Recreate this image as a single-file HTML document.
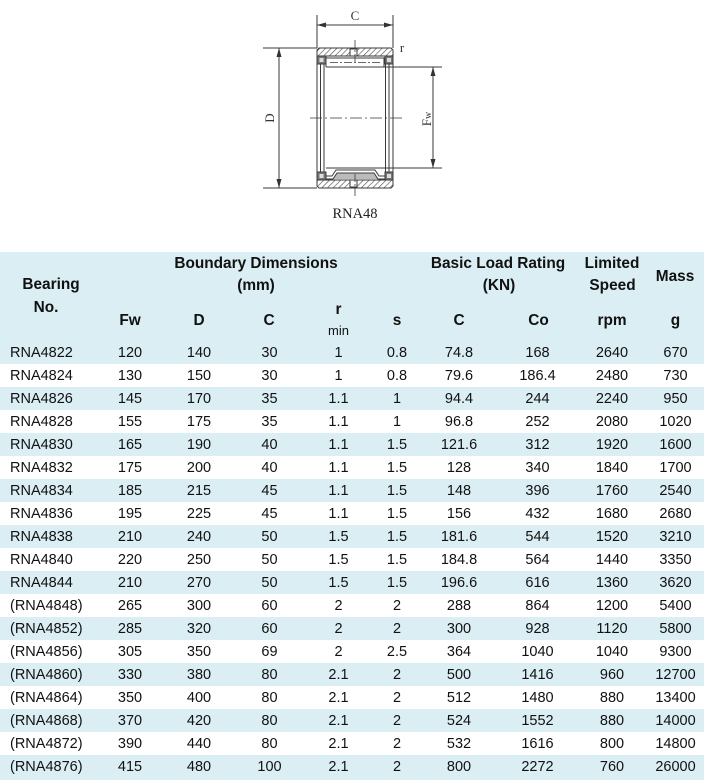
<!DOCTYPE html>
<html>
<head>
<meta charset="utf-8">
<style>
html,body{margin:0;padding:0;background:#fff;}
body{width:704px;height:780px;overflow:hidden;position:relative;font-family:"Liberation Sans",Arial,sans-serif;color:#111;}
.hdr{position:absolute;left:0;top:252px;width:704px;height:89px;background:#daeef3;}
.h{position:absolute;width:200px;text-align:center;font-weight:bold;font-size:15.4px;line-height:20px;height:20px;white-space:nowrap;}
.m{position:absolute;width:60px;text-align:center;font-size:13px;line-height:16px;height:16px;}
.r{position:absolute;left:0;width:704px;height:23px;font-size:14.5px;}
.r span{position:absolute;top:1px;width:80px;height:23px;line-height:23px;text-align:center;white-space:nowrap;}
.r span.c0{left:10px;text-align:left;width:100px;}
.b{background:#daeef3;}
.c1{left:90px}.c2{left:159px}.c3{left:229.5px}.c4{left:298.5px}.c5{left:357px}
.c6{left:419px}.c7{left:497.5px}.c8{left:572px}.c9{left:635.5px}
</style>
</head>
<body>
<svg width="704" height="252" style="position:absolute;left:0;top:0" xmlns="http://www.w3.org/2000/svg">
<defs>
<pattern id="hp" width="4" height="4" patternUnits="userSpaceOnUse" patternTransform="rotate(45)">
<rect width="4" height="4" fill="#fff"/>
<line x1="0" y1="0" x2="0" y2="4" stroke="#555" stroke-width="1.3"/>
</pattern>
</defs>
<g stroke="#3a3a3a" stroke-width="1" fill="none">
<!-- C dimension -->
<line x1="317" y1="15" x2="317" y2="48"/>
<line x1="393" y1="15" x2="393" y2="48"/>
<line x1="317" y1="25" x2="393" y2="25"/>
<!-- D dimension -->
<line x1="263" y1="48" x2="317" y2="48"/>
<line x1="263" y1="188" x2="317" y2="188"/>
<line x1="279" y1="48" x2="279" y2="188"/>
<!-- Fw dimension -->
<line x1="386" y1="67" x2="442" y2="67"/>
<line x1="386" y1="168" x2="442" y2="168"/>
<line x1="433" y1="67" x2="433" y2="168"/>
<!-- outer ring -->
<path d="M317,56 L317,50 L319,48 L391,48 L393,50 L393,56 Z" fill="url(#hp)"/>
<path d="M317,180 L317,186 L319,188 L391,188 L393,186 L393,180 Z" fill="url(#hp)"/>
<rect x="350" y="49" width="7" height="7" fill="#fff"/>
<rect x="350" y="180" width="7" height="7" fill="#fff"/>
<!-- side walls -->
<line x1="317" y1="56" x2="317" y2="180"/>
<line x1="320.5" y1="64" x2="320.5" y2="172"/>
<line x1="324" y1="64" x2="324" y2="172"/>
<line x1="393" y1="56" x2="393" y2="180"/>
<line x1="389" y1="64" x2="389" y2="172"/>
<line x1="385.5" y1="64" x2="385.5" y2="172"/>
<!-- lips -->
<rect x="317" y="56" width="9" height="8" fill="#777"/>
<rect x="319.5" y="58" width="4" height="4" fill="#ddd" stroke="none"/>
<rect x="385" y="56" width="8" height="8" fill="#777"/>
<rect x="387" y="58" width="4" height="4" fill="#ddd" stroke="none"/>
<rect x="317" y="172" width="9" height="8" fill="#777"/>
<rect x="319.5" y="174" width="4" height="4" fill="#ddd" stroke="none"/>
<rect x="385" y="172" width="8" height="8" fill="#777"/>
<rect x="387" y="174" width="4" height="4" fill="#ddd" stroke="none"/>
<!-- needles top -->
<line x1="326" y1="58" x2="385" y2="58"/>
<line x1="326" y1="67" x2="385" y2="67"/>
<line x1="326" y1="58" x2="326" y2="67"/>
<line x1="384" y1="58" x2="384" y2="67"/>
<line x1="330" y1="62.5" x2="381" y2="62.5" stroke-dasharray="8 2 2 2" stroke-width="0.7"/>
<!-- needles bottom / cage -->
<line x1="326" y1="168" x2="385" y2="168"/>
<path d="M326,176 L332,176 L336,170 L375,170 L379,176 L385,176" />
<path d="M326,179 L333,179 L337,173 L374,173 L378,179 L385,179" fill="#bbb"/>
<!-- center lines -->
<line x1="310" y1="118" x2="402" y2="118" stroke-dasharray="12 3 2 3" stroke-width="0.8"/>
<line x1="355" y1="40" x2="355" y2="62" stroke-dasharray="8 2 2 2" stroke-width="0.8"/>
<line x1="355" y1="174" x2="355" y2="197" stroke-dasharray="8 2 2 2" stroke-width="0.8"/>
</g>
<g fill="#333" stroke="none">
<polygon points="317,25 326,22.5 326,27.5"/>
<polygon points="393,25 384,22.5 384,27.5"/>
<polygon points="279,48 276.5,57 281.5,57"/>
<polygon points="279,188 276.5,179 281.5,179"/>
<polygon points="433,67 430.5,76 435.5,76"/>
<polygon points="433,168 430.5,159 435.5,159"/>
</g>
<g font-family="Liberation Serif, serif" fill="#333">
<text x="355" y="20" font-size="13" text-anchor="middle">C</text>
<text x="402" y="52" font-size="13" text-anchor="middle">r</text>
<text transform="translate(274,118) rotate(-90)" font-size="13" text-anchor="middle">D</text>
<text transform="translate(431,119) rotate(-90)" font-size="13" text-anchor="middle">F<tspan font-size="10">w</tspan></text>
<text x="355" y="218" font-size="14.5" text-anchor="middle" fill="#222">RNA48</text>
</g>
</svg>

<div class="hdr"></div>
<div class="h" style="left:156px;top:254.2px">Boundary Dimensions</div>
<div class="h" style="left:156px;top:275.7px">(mm)</div>
<div class="h" style="left:-49px;top:275.4px">Bearing</div>
<div class="h" style="left:-54px;top:298px">No.</div>
<div class="h" style="left:398px;top:254.2px">Basic Load Rating</div>
<div class="h" style="left:399px;top:275.7px">(KN)</div>
<div class="h" style="left:512px;top:254.2px">Limited</div>
<div class="h" style="left:512.5px;top:275.7px">Speed</div>
<div class="h" style="left:575px;top:266.7px">Mass</div>
<div class="h" style="left:30px;top:310.7px">Fw</div>
<div class="h" style="left:99px;top:310.7px">D</div>
<div class="h" style="left:169px;top:310.7px">C</div>
<div class="h" style="left:238.5px;top:299.7px">r</div>
<div class="m" style="left:308.5px;top:323.2px">min</div>
<div class="h" style="left:297px;top:310.7px">s</div>
<div class="h" style="left:359px;top:310.7px">C</div>
<div class="h" style="left:438.5px;top:310.7px">Co</div>
<div class="h" style="left:512px;top:310.7px">rpm</div>
<div class="h" style="left:575.5px;top:310.7px">g</div>

<div class="r b" style="top:341px"><span class="c0">RNA4822</span><span class="c1">120</span><span class="c2">140</span><span class="c3">30</span><span class="c4">1</span><span class="c5">0.8</span><span class="c6">74.8</span><span class="c7">168</span><span class="c8">2640</span><span class="c9">670</span></div>
<div class="r" style="top:364px"><span class="c0">RNA4824</span><span class="c1">130</span><span class="c2">150</span><span class="c3">30</span><span class="c4">1</span><span class="c5">0.8</span><span class="c6">79.6</span><span class="c7">186.4</span><span class="c8">2480</span><span class="c9">730</span></div>
<div class="r b" style="top:387px"><span class="c0">RNA4826</span><span class="c1">145</span><span class="c2">170</span><span class="c3">35</span><span class="c4">1.1</span><span class="c5">1</span><span class="c6">94.4</span><span class="c7">244</span><span class="c8">2240</span><span class="c9">950</span></div>
<div class="r" style="top:410px"><span class="c0">RNA4828</span><span class="c1">155</span><span class="c2">175</span><span class="c3">35</span><span class="c4">1.1</span><span class="c5">1</span><span class="c6">96.8</span><span class="c7">252</span><span class="c8">2080</span><span class="c9">1020</span></div>
<div class="r b" style="top:433px"><span class="c0">RNA4830</span><span class="c1">165</span><span class="c2">190</span><span class="c3">40</span><span class="c4">1.1</span><span class="c5">1.5</span><span class="c6">121.6</span><span class="c7">312</span><span class="c8">1920</span><span class="c9">1600</span></div>
<div class="r" style="top:456px"><span class="c0">RNA4832</span><span class="c1">175</span><span class="c2">200</span><span class="c3">40</span><span class="c4">1.1</span><span class="c5">1.5</span><span class="c6">128</span><span class="c7">340</span><span class="c8">1840</span><span class="c9">1700</span></div>
<div class="r b" style="top:479px"><span class="c0">RNA4834</span><span class="c1">185</span><span class="c2">215</span><span class="c3">45</span><span class="c4">1.1</span><span class="c5">1.5</span><span class="c6">148</span><span class="c7">396</span><span class="c8">1760</span><span class="c9">2540</span></div>
<div class="r" style="top:502px"><span class="c0">RNA4836</span><span class="c1">195</span><span class="c2">225</span><span class="c3">45</span><span class="c4">1.1</span><span class="c5">1.5</span><span class="c6">156</span><span class="c7">432</span><span class="c8">1680</span><span class="c9">2680</span></div>
<div class="r b" style="top:525px"><span class="c0">RNA4838</span><span class="c1">210</span><span class="c2">240</span><span class="c3">50</span><span class="c4">1.5</span><span class="c5">1.5</span><span class="c6">181.6</span><span class="c7">544</span><span class="c8">1520</span><span class="c9">3210</span></div>
<div class="r" style="top:548px"><span class="c0">RNA4840</span><span class="c1">220</span><span class="c2">250</span><span class="c3">50</span><span class="c4">1.5</span><span class="c5">1.5</span><span class="c6">184.8</span><span class="c7">564</span><span class="c8">1440</span><span class="c9">3350</span></div>
<div class="r b" style="top:571px"><span class="c0">RNA4844</span><span class="c1">210</span><span class="c2">270</span><span class="c3">50</span><span class="c4">1.5</span><span class="c5">1.5</span><span class="c6">196.6</span><span class="c7">616</span><span class="c8">1360</span><span class="c9">3620</span></div>
<div class="r" style="top:594px"><span class="c0">(RNA4848)</span><span class="c1">265</span><span class="c2">300</span><span class="c3">60</span><span class="c4">2</span><span class="c5">2</span><span class="c6">288</span><span class="c7">864</span><span class="c8">1200</span><span class="c9">5400</span></div>
<div class="r b" style="top:617px"><span class="c0">(RNA4852)</span><span class="c1">285</span><span class="c2">320</span><span class="c3">60</span><span class="c4">2</span><span class="c5">2</span><span class="c6">300</span><span class="c7">928</span><span class="c8">1120</span><span class="c9">5800</span></div>
<div class="r" style="top:640px"><span class="c0">(RNA4856)</span><span class="c1">305</span><span class="c2">350</span><span class="c3">69</span><span class="c4">2</span><span class="c5">2.5</span><span class="c6">364</span><span class="c7">1040</span><span class="c8">1040</span><span class="c9">9300</span></div>
<div class="r b" style="top:663px"><span class="c0">(RNA4860)</span><span class="c1">330</span><span class="c2">380</span><span class="c3">80</span><span class="c4">2.1</span><span class="c5">2</span><span class="c6">500</span><span class="c7">1416</span><span class="c8">960</span><span class="c9">12700</span></div>
<div class="r" style="top:686px"><span class="c0">(RNA4864)</span><span class="c1">350</span><span class="c2">400</span><span class="c3">80</span><span class="c4">2.1</span><span class="c5">2</span><span class="c6">512</span><span class="c7">1480</span><span class="c8">880</span><span class="c9">13400</span></div>
<div class="r b" style="top:709px"><span class="c0">(RNA4868)</span><span class="c1">370</span><span class="c2">420</span><span class="c3">80</span><span class="c4">2.1</span><span class="c5">2</span><span class="c6">524</span><span class="c7">1552</span><span class="c8">880</span><span class="c9">14000</span></div>
<div class="r" style="top:732px"><span class="c0">(RNA4872)</span><span class="c1">390</span><span class="c2">440</span><span class="c3">80</span><span class="c4">2.1</span><span class="c5">2</span><span class="c6">532</span><span class="c7">1616</span><span class="c8">800</span><span class="c9">14800</span></div>
<div class="r b" style="top:755px;height:25px"><span class="c0">(RNA4876)</span><span class="c1">415</span><span class="c2">480</span><span class="c3">100</span><span class="c4">2.1</span><span class="c5">2</span><span class="c6">800</span><span class="c7">2272</span><span class="c8">760</span><span class="c9">26000</span></div>
</body>
</html>
